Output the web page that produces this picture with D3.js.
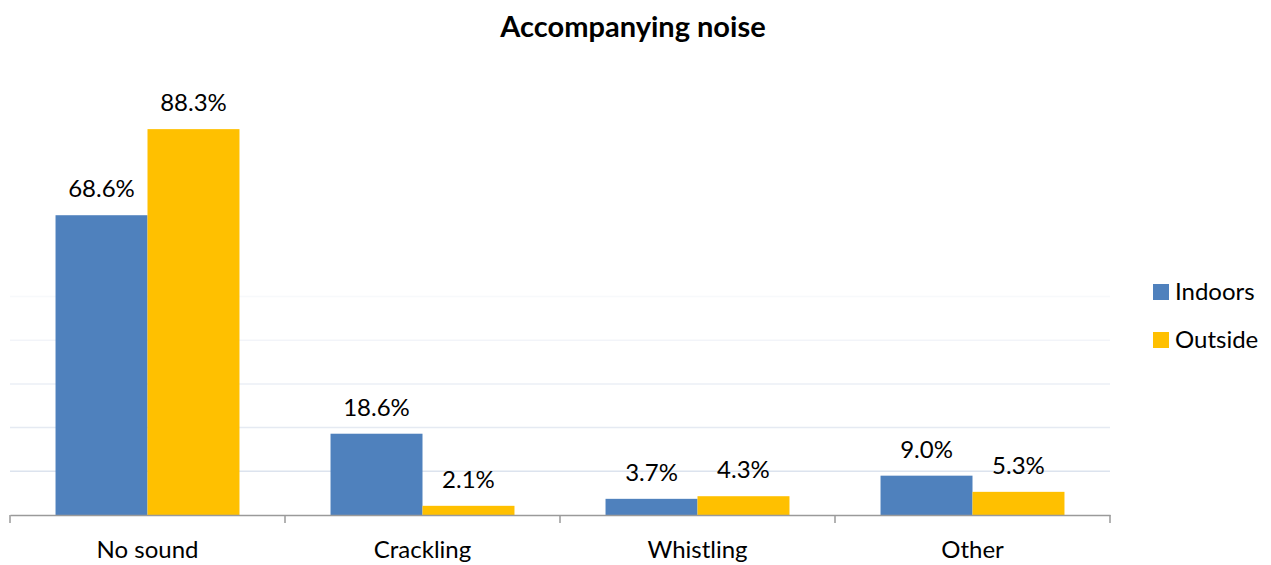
<!DOCTYPE html>
<html>
<head>
<meta charset="utf-8">
<script src="https://cdn.jsdelivr.net/npm/d3@7"></script>
<style>
  html, body { margin: 0; padding: 0; background: #fff; }
  svg { display: block; font-family: Lato, "Open Sans", sans-serif; }
</style>
</head>
<body>
<svg id="chart" width="1271" height="565"></svg>
<script>
const categories = ["No sound", "Crackling", "Whistling", "Other"];
const seriesNames = ["Indoors", "Outside"];
const indoors = [68.6, 18.6, 3.7, 9.0];
const outside = [88.3, 2.1, 4.3, 5.3];
const gridTicks = [10, 20, 30, 40, 50];
const colors = ["#4f81bd", "#ffc000"];

const svg = d3.select("#chart");
const left = 10, right = 1110, baseY = 515, topY = 78;

const x = d3.scaleBand().domain(categories).range([left, right]).paddingInner(0).paddingOuter(0);
const xs = d3.scaleBand().domain(seriesNames).range([0, x.bandwidth()]).paddingInner(0).paddingOuter(0.495);
const y = d3.scaleLinear().domain([0, 100]).range([baseY, topY]);

// gridlines (fading upward)
const gridOpacity = [1, 0.75, 0.55, 0.38, 0.22];
svg.append("g").selectAll("line").data(gridTicks).join("line")
  .attr("x1", left).attr("x2", right)
  .attr("y1", d => y(d)).attr("y2", d => y(d))
  .attr("stroke", "#dce3ee").attr("stroke-width", 1.5)
  .attr("stroke-opacity", (d, i) => gridOpacity[i]);

// bars
const series = [indoors, outside];
const groups = svg.append("g").selectAll("g").data(categories).join("g")
  .attr("transform", d => `translate(${x(d)},0)`);
groups.selectAll("rect").data((c, ci) => seriesNames.map((s, si) => ({s, si, v: series[si][ci]})))
  .join("rect")
  .attr("x", d => xs(d.s)).attr("width", xs.bandwidth())
  .attr("y", d => y(d.v)).attr("height", d => baseY - y(d.v))
  .attr("fill", d => colors[d.si]);

// value labels
groups.selectAll("text").data((c, ci) => seriesNames.map((s, si) => ({s, si, v: series[si][ci]})))
  .join("text")
  .attr("x", d => xs(d.s) + xs.bandwidth() / 2)
  .attr("y", d => y(d.v) - 18)
  .attr("text-anchor", "middle")
  .attr("font-size", 24).attr("fill", "#000")
  .text(d => d.v.toFixed(1) + "%");

// x axis
const xAxis = d3.axisBottom(x).tickSize(0).tickPadding(0);
const ax = svg.append("g").attr("transform", `translate(0,${baseY})`).call(xAxis);
ax.select(".domain").attr("stroke", "#9a9a9a").attr("stroke-width", 1.5);
ax.selectAll(".tick text").attr("font-size", 24).attr("font-family", "Lato, sans-serif")
  .attr("fill", "#000").attr("dy", null).attr("y", 43);
// boundary ticks
const bounds = categories.map(c => x(c)).concat([right]);
svg.append("g").selectAll("line").data(bounds).join("line")
  .attr("x1", d => d).attr("x2", d => d)
  .attr("y1", baseY).attr("y2", baseY + 8)
  .attr("stroke", "#9a9a9a").attr("stroke-width", 1.5);

// title
svg.append("text").attr("x", 633).attr("y", 37).attr("text-anchor", "middle")
  .attr("font-size", 29).attr("font-weight", "bold").attr("fill", "#000")
  .text("Accompanying noise");

// legend
const lg = svg.append("g").selectAll("g").data(seriesNames).join("g")
  .attr("transform", (d, i) => `translate(1153,${284 + i * 48})`);
lg.append("rect").attr("width", 16).attr("height", 16).attr("fill", (d, i) => colors[i]);
lg.append("text").attr("x", 22).attr("y", 16).attr("font-size", 24).attr("fill", "#000").text(d => d);
</script>
</body>
</html>
